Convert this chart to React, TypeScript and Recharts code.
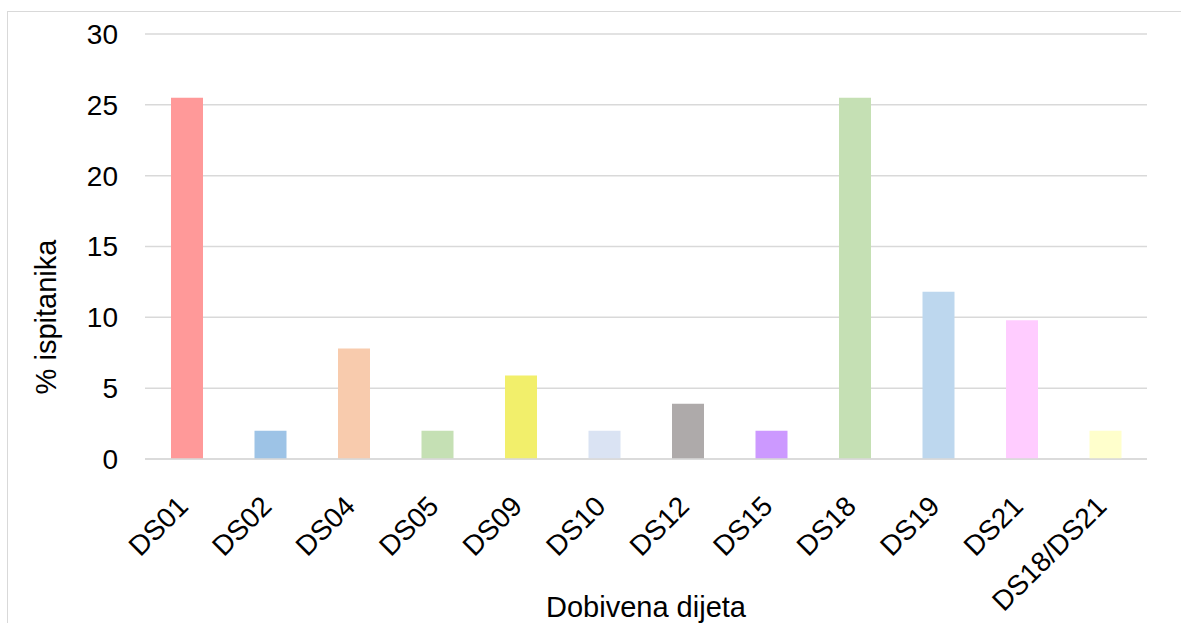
import { BarChart, Bar, Cell, XAxis, YAxis, CartesianGrid, Label } from "recharts";

const categories = ["DS01", "DS02", "DS04", "DS05", "DS09", "DS10", "DS12", "DS15", "DS18", "DS19", "DS21", "DS18/DS21"];
const percentValues = [25.5, 2.0, 7.8, 2.0, 5.9, 2.0, 3.9, 2.0, 25.5, 11.8, 9.8, 2.0];
const barColors = ["#ff9999", "#9dc3e6", "#f8cbad", "#c5e0b4", "#f2ef6b", "#dae3f3", "#aeaaaa", "#cc99ff", "#c5e0b4", "#bdd7ee", "#ffccff", "#ffffcc"];
const yTicks = [0, 5, 10, 15, 20, 25, 30];

const data = categories.map((name, i) => ({ name, value: percentValues[i] }));

const FONT = '"Liberation Sans", Arial, sans-serif';
const GRID = "#d9d9d9";

function XTick({ x, y, payload }: any) {
  return (
    <g transform={`translate(${x + 3},${y + 41})`}>
      <text
        transform="rotate(-45)"
        textAnchor="end"
        fontFamily={FONT}
        fontSize={28}
        fill="#000"
      >
        {payload.value}
      </text>
    </g>
  );
}

export default function App() {
  return (
    <div
      style={{
        position: "absolute",
        left: 0,
        top: 0,
        width: 1181,
        height: 623,
        overflow: "hidden",
        background: "#fff",
      }}
    >
      <div
        style={{
          position: "absolute",
          left: 7,
          top: 11,
          width: 1300,
          height: 800,
          border: `1.5px solid ${GRID}`,
        }}
      />
      <div style={{ position: "absolute", left: 0, top: 0 }}>
        <BarChart
          width={1181}
          height={623}
          data={data}
          margin={{ top: 34, right: 34, left: 0, bottom: 0 }}
        >
          <CartesianGrid vertical={false} stroke={GRID} strokeWidth={1.5} />
          <XAxis
            dataKey="name"
            height={164}
            interval={0}
            tickLine={false}
            axisLine={{ stroke: GRID, strokeWidth: 1.5 }}
            tick={<XTick />}
          >
            <Label
              content={({ viewBox }: any) => (
                <text
                  x={viewBox.x + viewBox.width / 2}
                  y={617}
                  textAnchor="middle"
                  fontFamily={FONT}
                  fontSize={29}
                  fill="#000"
                >
                  Dobivena dijeta
                </text>
              )}
            />
          </XAxis>
          <YAxis
            width={145}
            domain={[0, 30]}
            ticks={yTicks}
            interval={0}
            axisLine={false}
            tickLine={false}
            tickMargin={21}
            tick={{ fontFamily: FONT, fontSize: 28, fill: "#000" }}
          >
            <Label
              content={() => (
                <text
                  transform="translate(56,317) rotate(-90)"
                  textAnchor="middle"
                  fontFamily={FONT}
                  fontSize={29}
                  fill="#000"
                >
                  % ispitanika
                </text>
              )}
            />
          </YAxis>
          <Bar dataKey="value" barSize={32} isAnimationActive={false}>
            {data.map((entry, index) => (
              <Cell key={entry.name} fill={barColors[index]} />
            ))}
          </Bar>
        </BarChart>
      </div>
    </div>
  );
}
